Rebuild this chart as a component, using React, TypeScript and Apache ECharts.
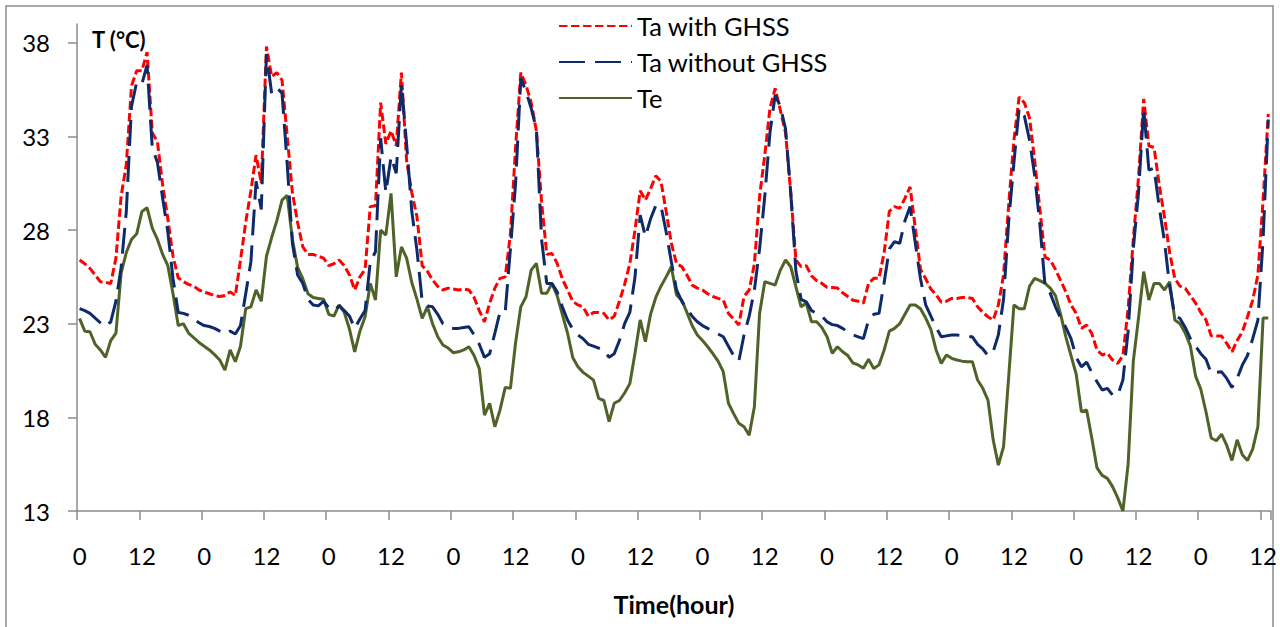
import React, { useEffect, useRef } from "react";
import * as echarts from "echarts";

// 230 hourly categories (hour of day)
const hours: string[] = Array.from({ length: 230 }, (_, i) => String(i % 24));
const yTicks: number[] = [13, 18, 23, 28, 33, 38];
const seriesNames: string[] = ["Ta with GHSS", "Ta without GHSS", "Te"];

const taWithGHSS: number[] = [
  26.4, 26.2, 25.95, 25.6, 25.24, 25.2, 25.15, 26.5, 29.8, 31.5, 35.7, 36.5, 36.5, 37.5, 33.2, 32.7, 30.4, 28.6, 26.6, 25.45, 25.24, 25.1, 25.0, 24.8,
  24.7, 24.6, 24.5, 24.45, 24.5, 24.7, 24.5, 26.4, 28.4, 30.1, 32.0, 30.5, 37.8, 36.2, 36.4, 36.0, 33.0, 30.0, 28.4, 27.1, 26.7, 26.7, 26.6, 26.5,
  26.1, 26.2, 26.4, 26.1, 25.6, 24.8, 25.5, 25.9, 29.25, 29.3, 34.8, 32.6, 33.3, 32.5, 36.4, 31.7, 30.0, 28.7, 26.1, 25.8, 25.33, 25.0, 24.8, 24.9,
  24.85, 24.8, 24.85, 24.8, 24.4, 23.7, 23.1, 24.1, 24.9, 25.42, 25.5, 27.8, 32.45, 36.4, 35.74, 34.8, 33.3, 29.5, 26.7, 26.75, 26.22, 25.4, 24.8, 24.2,
  24.0, 23.9, 23.4, 23.6, 23.6, 23.55, 23.2, 23.4, 24.2, 25.1, 26.2, 28.0, 30.1, 29.6, 30.2, 30.9, 30.6, 29.0, 27.3, 26.2, 26.05, 25.6, 25.06, 24.9,
  24.8, 24.6, 24.45, 24.35, 24.27, 23.55, 23.25, 22.93, 24.45, 24.8, 26.2, 29.8, 32.0, 34.5, 35.56, 34.4, 33.2, 30.0, 26.4, 26.05, 26.1, 25.55, 25.3, 25.15,
  24.95, 24.93, 24.9, 24.65, 24.45, 24.25, 24.2, 24.1, 25.15, 25.42, 25.42, 26.8, 29.0, 29.25, 29.16, 29.69, 30.3, 28.1, 25.9, 25.4, 24.85, 24.55, 24.15, 24.2,
  24.35, 24.35, 24.4, 24.4, 24.35, 23.9, 23.6, 23.37, 23.2, 24.0, 25.6, 29.4, 32.8, 35.1, 34.8, 34.0, 31.7, 29.1, 26.55, 26.4, 25.9, 25.3, 24.7, 24.0,
  23.55, 22.75, 22.93, 22.48, 21.6, 21.33, 21.42, 21.06, 20.88, 21.3, 23.8, 27.5, 30.8, 35.0, 32.5, 32.4, 30.4, 28.7, 26.8, 25.4, 25.0, 24.88, 24.5, 24.1,
  23.6, 23.2, 22.35, 22.34, 22.34, 21.95, 21.5, 22.1, 22.57, 23.37, 24.26, 25.6, 29.6, 34.2,
];

const taWithoutGHSS: number[] = [
  23.8, 23.7, 23.55, 23.3, 23.05, 22.85, 23.1, 24.2, 26.0, 29.0, 34.6, 35.9, 35.8, 36.8, 32.4, 31.6, 29.7, 27.9, 25.4, 23.6, 23.55, 23.45, 23.25, 23.05,
  22.9, 22.85, 22.75, 22.6, 22.45, 22.6, 22.45, 22.9, 24.6, 26.3, 30.6, 29.1, 37.4, 35.3, 35.6, 35.3, 31.5, 27.3, 25.6, 25.15, 24.3, 24.0, 23.95, 24.2,
  23.85, 23.7, 23.95, 23.7, 23.4, 22.75, 23.25, 23.7, 26.3, 26.84, 32.9, 30.0, 31.9, 31.03, 35.8, 32.6, 29.0, 26.9, 24.2, 23.95, 23.9, 23.5, 23.0, 22.8,
  22.75, 22.75, 22.8, 22.84, 22.4, 21.9, 21.2, 21.4, 22.5, 23.64, 23.64, 27.0, 30.5, 36.1, 35.4, 34.5, 33.4, 27.5, 25.15, 25.15, 24.7, 23.9, 23.2, 22.7,
  22.4, 22.2, 21.9, 21.8, 21.7, 21.6, 21.2, 21.4, 22.1, 23.0, 23.6, 25.5, 28.8, 27.65, 28.6, 29.3, 29.3, 27.9, 26.3, 24.8, 24.2, 23.8, 23.4, 23.1,
  22.9, 22.75, 22.6, 22.45, 22.3, 21.8, 21.3, 21.0, 22.4, 23.4, 24.8, 27.0, 29.8, 33.2, 35.2, 34.6, 33.4, 30.0, 25.8, 24.3, 24.17, 23.7, 23.55, 23.4,
  23.1, 22.95, 22.9, 22.75, 22.55, 22.4, 22.3, 22.2, 23.2, 23.5, 23.55, 25.2, 27.0, 27.38, 27.29, 28.5, 29.25, 27.3, 25.4, 24.0, 23.4, 22.8, 22.3, 22.35,
  22.4, 22.4, 22.35, 22.3, 22.3, 21.9, 21.65, 21.3, 21.5, 22.4, 24.3, 28.5, 31.6, 34.5, 34.1, 32.8, 30.9, 28.3, 25.0, 24.62, 23.9, 23.3, 22.8, 22.2,
  21.2, 20.7, 20.95, 20.4, 19.9, 19.46, 19.55, 19.19, 19.19, 20.0, 22.6, 27.0, 30.0, 34.5, 31.2, 31.3, 29.2, 27.4, 25.0, 23.4, 23.28, 22.8, 22.2, 21.8,
  21.4, 21.1, 20.35, 20.4, 20.43, 20.08, 19.6, 20.08, 20.79, 21.3, 22.2, 23.19, 27.5, 33.9,
];

const te: number[] = [
  23.28, 22.6, 22.57, 21.9, 21.6, 21.2, 22.1, 22.5, 25.7, 26.8, 27.5, 27.8, 28.98, 29.2, 28.1, 27.5, 26.7, 26.1, 24.6, 22.9, 23.0, 22.5, 22.25, 22.0,
  21.8, 21.6, 21.35, 21.06, 20.52, 21.6, 20.97, 21.8, 23.8, 23.9, 24.8, 24.2, 26.6, 27.6, 28.5, 29.6, 29.85, 27.5, 26.0, 25.4, 24.6, 24.4, 24.35, 24.3,
  23.5, 23.4, 24.0, 23.6, 22.7, 21.5, 22.6, 23.37, 25.15, 24.26, 28.0, 27.73, 29.96, 25.5, 27.1, 26.5, 25.2, 24.3, 23.28, 23.9, 23.0, 22.3, 21.86, 21.7,
  21.45, 21.5, 21.6, 21.77, 21.3, 20.6, 18.12, 18.75, 17.5, 18.4, 19.6, 19.55, 22.0, 23.9, 24.44, 25.86, 26.22, 24.62, 24.62, 25.15, 24.5, 23.5, 22.5, 21.2,
  20.7, 20.4, 20.2, 19.99, 19.01, 18.9, 17.77, 18.75, 18.9, 19.3, 19.8, 21.42, 23.2, 22.04, 23.5, 24.4, 25.0, 25.5, 26.04, 24.53, 24.26, 23.6, 22.9, 22.4,
  22.1, 21.77, 21.4, 21.0, 20.44, 18.75, 18.2, 17.68, 17.5, 17.05, 18.57, 23.55, 25.24, 25.15, 25.06, 25.86, 26.4, 26.04, 24.97, 23.9, 24.1, 23.1, 23.1, 22.8,
  22.3, 21.42, 21.77, 21.5, 21.3, 20.9, 20.8, 20.62, 21.1, 20.6, 20.8, 21.6, 22.6, 22.75, 23.0, 23.5, 24.0, 24.0, 23.8, 23.3, 22.7, 21.6, 20.88, 21.33,
  21.15, 21.06, 21.0, 20.97, 20.97, 19.99, 19.55, 18.92, 16.8, 15.45, 16.43, 20.2, 24.0, 23.8, 23.8, 25.0, 25.42, 25.3, 25.15, 24.9, 24.5, 23.5, 22.3, 21.3,
  20.3, 18.3, 18.39, 16.9, 15.3, 14.9, 14.74, 14.3, 13.7, 13.0, 15.5, 21.0, 23.3, 25.78, 24.26, 25.15, 25.15, 24.8, 25.24, 23.2, 23.0, 22.5, 21.8, 20.2,
  19.5, 18.3, 16.9, 16.75, 17.1, 16.5, 15.7, 16.8, 16.0, 15.7, 16.3, 17.5, 23.3, 23.3,
];

const AXIS_GRAY = "#8c8c8c";
const FONT = "Lato";
const RED = "#ff0000";
const NAVY = "#0e2a68";
const OLIVE = "#4f6228";

export default function App() {
  const ref = useRef<HTMLDivElement>(null);

  useEffect(() => {
    document.body.style.margin = "0";
    if (!ref.current) return;
    const chart = echarts.init(ref.current, null, { renderer: "svg" });
    chart.setOption({
      animation: false,
      backgroundColor: "#ffffff",
      textStyle: { fontFamily: FONT },
      grid: { left: 77, right: 6, top: 24, bottom: 116, containLabel: false },
      legend: {
        data: seriesNames,
        orient: "vertical",
        left: 558,
        top: 13,
        padding: 0,
        itemWidth: 73,
        itemHeight: 12,
        itemGap: 10,
        itemStyle: { opacity: 0 },
        textStyle: { fontFamily: FONT, fontSize: 25.5, color: "#000", lineHeight: 25 },
      },
      xAxis: {
        type: "category",
        data: hours,
        boundaryGap: true,
        name: "Time(hour)",
        nameLocation: "middle",
        nameGap: 80,
        nameTextStyle: { fontFamily: FONT, fontSize: 25, fontWeight: "bold", color: "#000" },
        axisLine: { show: true, lineStyle: { color: AXIS_GRAY, width: 1.5 } },
        axisTick: { show: true, interval: 11, length: 9, lineStyle: { color: AXIS_GRAY, width: 1.5 } },
        axisLabel: { interval: 11, fontFamily: FONT, fontSize: 24, color: "#000", margin: 32 },
        splitLine: { show: false },
      },
      yAxis: {
        type: "value",
        min: 13,
        max: 39,
        axisLine: { show: true, lineStyle: { color: AXIS_GRAY, width: 1.5 } },
        axisTick: { show: true, customValues: yTicks, length: 9, lineStyle: { color: AXIS_GRAY, width: 1.5 } },
        axisLabel: { customValues: yTicks, fontFamily: FONT, fontSize: 24, color: "#000", margin: 27 },
        splitLine: { show: false },
      },
      graphic: [
        {
          type: "rect",
          silent: true,
          z: -10,
          shape: { x: 6, y: 6, width: 1267, height: 660 },
          style: { fill: "none", stroke: AXIS_GRAY, lineWidth: 1.5 },
        },
        {
          type: "text",
          silent: true,
          x: 92,
          y: 39,
          style: {
            text: "T (°C)",
            fontFamily: FONT,
            fontSize: 22,
            fontWeight: "bold",
            fill: "#000",
            verticalAlign: "middle",
          },
        },
      ],
      series: [
        {
          name: seriesNames[0],
          type: "line",
          data: taWithGHSS,
          symbol: "none",
          showSymbol: false,
          z: 3,
          lineStyle: { color: RED, width: 3, type: [8.5, 3.5] },
          itemStyle: { color: RED, opacity: 0 },
        },
        {
          name: seriesNames[1],
          type: "line",
          data: taWithoutGHSS,
          symbol: "none",
          showSymbol: false,
          z: 4,
          lineStyle: { color: NAVY, width: 3, type: [26, 10] },
          itemStyle: { color: NAVY, opacity: 0 },
        },
        {
          name: seriesNames[2],
          type: "line",
          data: te,
          symbol: "none",
          showSymbol: false,
          z: 2,
          lineStyle: { color: OLIVE, width: 3, type: "solid" },
          itemStyle: { color: OLIVE, opacity: 0 },
        },
      ],
    });
    return () => chart.dispose();
  }, []);

  return <div ref={ref} style={{ width: 1280, height: 627 }} />;
}
